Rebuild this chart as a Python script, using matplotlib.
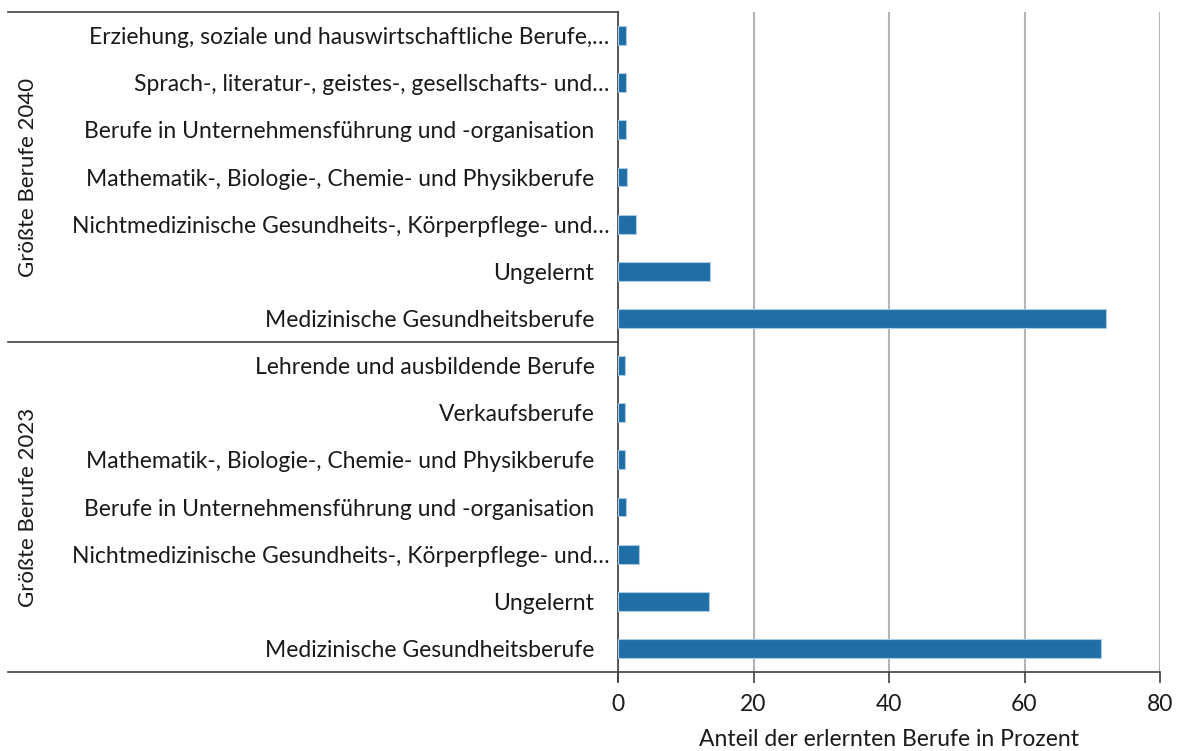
import matplotlib
matplotlib.use("Agg")
import matplotlib.pyplot as plt
import matplotlib.transforms as mtransforms

plt.rcParams['font.family'] = ['Lato', 'DejaVu Sans']

# categories top to bottom
labels_2040 = [
    "Erziehung, soziale und hauswirtschaftliche Berufe,\u2026",
    "Sprach-, literatur-, geistes-, gesellschafts- und\u2026",
    "Berufe in Unternehmensführung und -organisation",
    "Mathematik-, Biologie-, Chemie- und Physikberufe",
    "Nichtmedizinische Gesundheits-, Körperpflege- und\u2026",
    "Ungelernt",
    "Medizinische Gesundheitsberufe",
]
values_2040 = [1.2, 1.2, 1.2, 1.4, 2.7, 13.6, 72.0]

labels_2023 = [
    "Lehrende und ausbildende Berufe",
    "Verkaufsberufe",
    "Mathematik-, Biologie-, Chemie- und Physikberufe",
    "Berufe in Unternehmensführung und -organisation",
    "Nichtmedizinische Gesundheits-, Körperpflege- und\u2026",
    "Ungelernt",
    "Medizinische Gesundheitsberufe",
]
values_2023 = [1.0, 1.0, 1.0, 1.2, 3.1, 13.5, 71.3]

group_names = ["Größte Berufe 2040", "Größte Berufe 2023"]
x_ticks = [0, 20, 40, 60, 80]

labels = labels_2040 + labels_2023
values = values_2040 + values_2023
pos = list(range(len(labels)))

fs = 16.5

fig = plt.figure(figsize=(11.77, 7.51), dpi=100)
ax = fig.add_axes([618 / 1177, 1 - 672 / 751, 542 / 1177, 660 / 751])

ax.barh(pos, values, height=0.4, color="#1f6ea5", edgecolor="#a9cbe6", linewidth=0.8, zorder=3)
ax.set_ylim(len(labels) - 0.5, -0.5)
ax.set_xlim(0, 80)
ax.set_xticks(x_ticks)
ax.set_yticks(pos)
ax.set_yticklabels(labels, fontsize=fs, color="#1a1a1a")
ax.tick_params(axis="y", length=0, pad=17)
ax.tick_params(axis="x", length=8, width=1.2, color="#404040", labelsize=fs,
               labelcolor="#1a1a1a", pad=8)
ax.grid(axis="x", color="#b4b4b4", linewidth=1.5, zorder=0)
ax.set_axisbelow(True)
for s in ["top", "right"]:
    ax.spines[s].set_visible(False)
for s in ["left", "bottom"]:
    ax.spines[s].set_color("#404040")
    ax.spines[s].set_linewidth(1.2)
ax.set_xlabel("Anteil der erlernten Berufe in Prozent", fontsize=fs, color="#1a1a1a", labelpad=10)

# truncated labels overhang a bit to the right, like in the original
shift = mtransforms.ScaledTranslation(15 / 100, 0, fig.dpi_scale_trans)
for lbl in ax.get_yticklabels():
    if lbl.get_text().endswith("\u2026"):
        lbl.set_transform(lbl.get_transform() + shift)

# group separators and labels on the left
tr = mtransforms.blended_transform_factory(fig.transFigure, ax.transData)
x0 = 8 / 1177
x1 = 618 / 1177
n = len(labels_2040)
for yb in [-0.5, n - 0.5, len(labels) - 0.5]:
    ax.plot([x0, x1], [yb, yb], transform=tr, color="#404040", lw=1.2, clip_on=False)
ax.plot([x1, x1], [len(labels) - 0.5, len(labels) - 0.3], transform=tr,
        color="#404040", lw=1.2, clip_on=False)
for i, g in enumerate(group_names):
    yc = i * n + (n - 1) / 2
    ax.text(28 / 1177, yc, g, transform=tr, rotation=90, ha="center", va="center",
            fontsize=16, color="#1a1a1a")

fig.savefig("out.png", dpi=100)
